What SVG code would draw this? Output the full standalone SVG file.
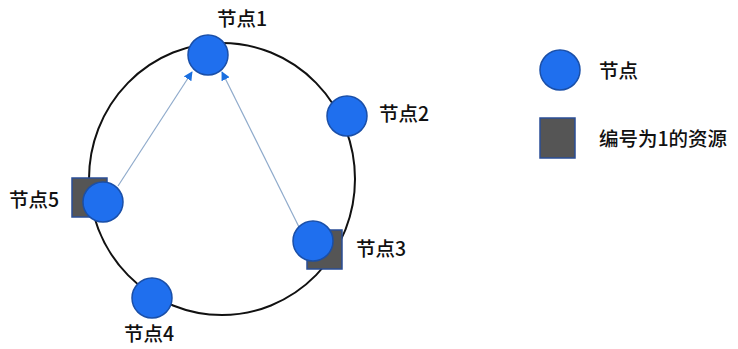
<svg xmlns="http://www.w3.org/2000/svg" width="738" height="349" viewBox="0 0 738 349">
<style>
.ring{fill:none;stroke:#111;stroke-width:2}
.node{fill:#1F6FEE;stroke:#1A4FA8;stroke-width:1.5}
.res{fill:#555555;stroke:#2A4E96;stroke-width:1.5}
.lbl{font-family:"Noto Sans CJK SC","Noto Sans",sans-serif;font-size:19.5px;font-weight:500;fill:#111}
.edge{stroke:#8FAACB;stroke-width:1.2;fill:none;marker-end:url(#ah)}
</style>
<defs>
<marker id="ah" viewBox="0 0 10 10" refX="9" refY="5" markerWidth="9" markerHeight="9" markerUnits="userSpaceOnUse" orient="auto">
<path d="M0,0 L10,5 L0,10 z" fill="#1A6FE0"/>
</marker>
</defs>
<rect width="738" height="349" fill="#fff"/>
<ellipse class="ring" cx="222" cy="179" rx="133" ry="136"/>
<g id="connectors">
<line class="edge" x1="118" y1="186" x2="192" y2="72"/>
<line class="edge" x1="299" y1="227" x2="222" y2="72"/>
</g>
<g id="node1">
<circle class="node" cx="208" cy="55" r="20"/>
<text class="lbl" x="217" y="26">节点1</text>
</g>
<g id="node2">
<circle class="node" cx="347" cy="116" r="20"/>
<text class="lbl" x="379" y="121">节点2</text>
</g>
<g id="node3">
<rect class="res" x="307" y="230" width="35" height="39"/>
<circle class="node" cx="313" cy="241" r="20"/>
<text class="lbl" x="356" y="256">节点3</text>
</g>
<g id="node4">
<circle class="node" cx="152" cy="298" r="20"/>
<text class="lbl" x="124" y="341">节点4</text>
</g>
<g id="node5">
<rect class="res" x="72" y="178" width="35" height="39"/>
<circle class="node" cx="103" cy="202" r="20"/>
<text class="lbl" x="9" y="207">节点5</text>
</g>
<g id="legend">
<circle class="node" cx="560" cy="70" r="20"/>
<text class="lbl" x="599" y="78">节点</text>
<rect class="res" x="540" y="118" width="35" height="40"/>
<text class="lbl" x="599" y="146">编号为1的资源</text>
</g>
</svg>
